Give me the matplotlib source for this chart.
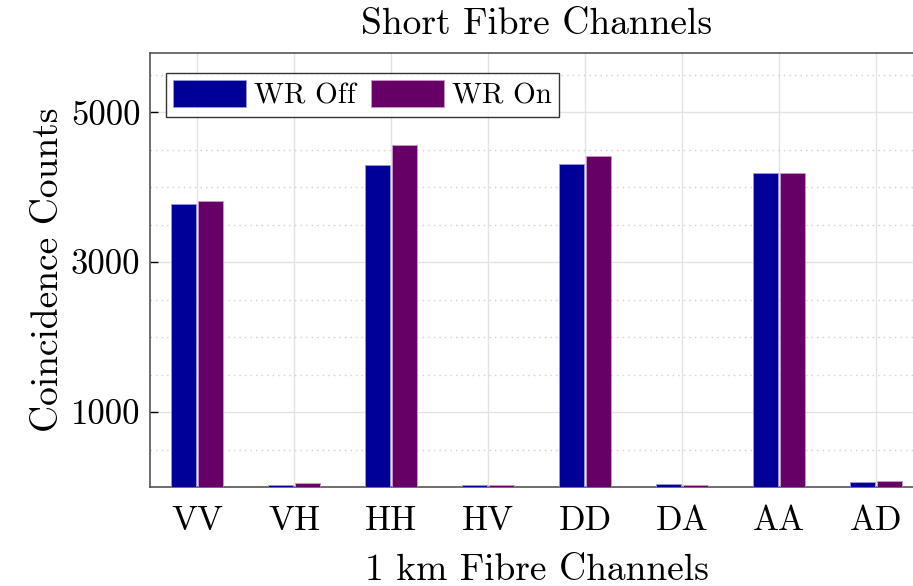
import numpy as np
import matplotlib
matplotlib.use('Agg')
import matplotlib.pyplot as plt
from matplotlib.ticker import MultipleLocator, FixedLocator

plt.rcParams['font.family'] = ['cmr10', 'DejaVu Serif']
plt.rcParams['axes.formatter.use_mathtext'] = True

channels = ['VV', 'VH', 'HH', 'HV', 'DD', 'DA', 'AA', 'AD']
wr_off = [3780, 30, 4300, 22, 4310, 36, 4190, 71]
wr_on = [3820, 57, 4560, 30, 4410, 30, 4195, 86]

fig = plt.figure(figsize=(9.13, 5.86), dpi=100)
ax = fig.add_axes([150 / 913, 1 - 487 / 586, 773 / 913, 434 / 586])

x = np.arange(len(channels))
w = 0.25
ax.bar(x - 0.14, wr_off, w, color='#000099', edgecolor='#9999dd', linewidth=0.6,
       label='WR Off', zorder=3)
ax.bar(x + 0.14, wr_on, w, color='#660066', edgecolor='#cc99cc', linewidth=0.6,
       label='WR On', zorder=3)

ax.set_xlim(-0.485, 7.485)
ax.set_ylim(0, 5790)
ax.set_xticks(x)
ax.set_xticklabels(channels)
ax.yaxis.set_major_locator(FixedLocator([1000, 3000, 5000]))
ax.yaxis.set_minor_locator(MultipleLocator(500))
ax.set_yticklabels(['1000', '3000', '5000'])

ax.grid(True, which='major', color='#e3e3e3', linewidth=1.0, zorder=0)
ax.grid(True, which='minor', axis='y', color='#d0d0d0', linestyle=(0, (1, 3)),
        linewidth=1.0, zorder=0)
ax.set_axisbelow(True)

ax.tick_params(axis='y', which='major', direction='in', length=6, width=1,
               labelsize=25, pad=7)
ax.tick_params(axis='y', which='minor', length=0)
ax.tick_params(axis='x', which='major', length=0, labelsize=25, pad=13)
for s in ax.spines.values():
    s.set_color('#555555')
    s.set_linewidth(1.2)

ax.set_title('Short Fibre Channels', fontsize=27, pad=14)
ax.set_xlabel('1 km Fibre Channels', fontsize=27, labelpad=12)
ax.set_ylabel('Coincidence Counts', fontsize=27, labelpad=4)

leg = ax.legend(loc='upper left', ncol=2, fontsize=21, frameon=True, fancybox=False,
                edgecolor='black', handlelength=2.5, handleheight=1.05,
                handletextpad=0.28, columnspacing=0.5, borderpad=0.25,
                borderaxespad=0, bbox_to_anchor=(16 / 773, 1 - 20 / 434))
leg.get_frame().set_linewidth(1.0)

fig.savefig('out.png', dpi=100)
